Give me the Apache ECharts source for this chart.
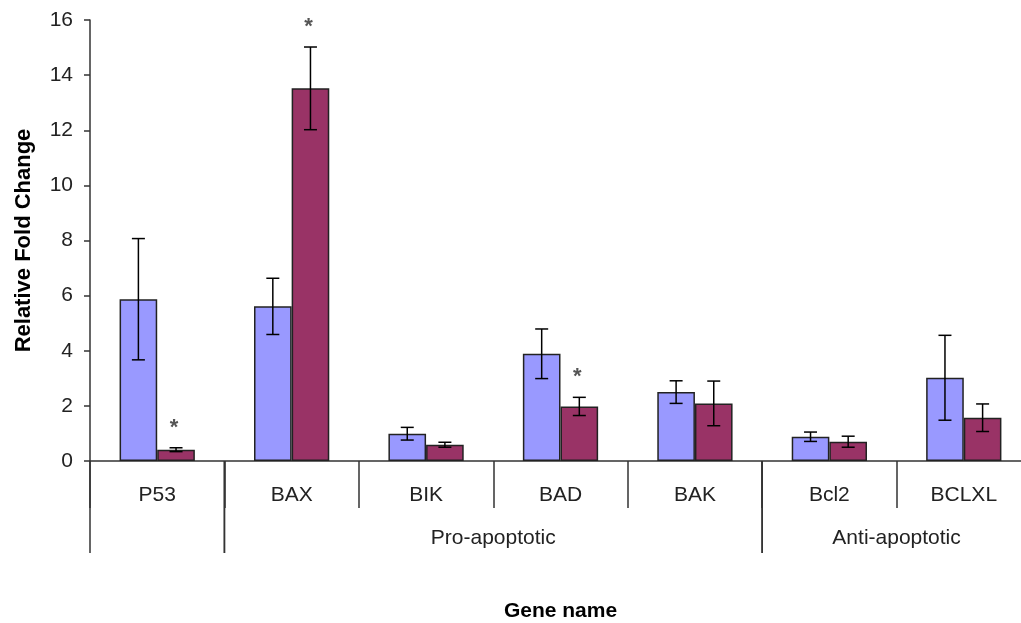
<!DOCTYPE html>
<html>
<head>
<meta charset="utf-8">
<script src="https://cdn.jsdelivr.net/npm/echarts@6/dist/echarts.min.js"></script>
<style>
  html, body { margin: 0; padding: 0; background: #fff; }
  #chart { width: 1021px; height: 623px; }
</style>
</head>
<body>
<div id="chart"></div>
<script>
// Gene expression: relative fold change with standard error
const genes = ['P53', 'BAX', 'BIK', 'BAD', 'BAK', 'Bcl2', 'BCLXL'];
const controlValues = [5.87, 5.61, 0.99, 3.89, 2.50, 0.88, 3.02];
const controlErrors = [2.2, 1.02, 0.23, 0.9, 0.41, 0.17, 1.54];
const treatedValues = [0.41, 13.52, 0.59, 1.98, 2.09, 0.70, 1.57];
const treatedErrors = [0.07, 1.5, 0.09, 0.33, 0.81, 0.2, 0.5];
const significant = [true, true, false, true, false, false, false];
const yTicks = { min: 0, max: 16, interval: 2 };

// Gene groups spanning category indices [start, end]
const groupNames = ['', 'Pro-apoptotic', 'Anti-apoptotic'];
const groupStart = [0, 1, 5];
const groupEnd = [0, 4, 6];

const COLOR_A = '#9999FF';
const COLOR_B = '#993366';
const BAR_FRACTION = 0.28;
const FONT = '"Liberation Sans", Arial, sans-serif';
const FONT_SIZE = 21;

const errorData = [];
genes.forEach((g, i) => {
  errorData.push([i, controlValues[i], controlErrors[i], -1, 0]);
  errorData.push([i, treatedValues[i], treatedErrors[i], 1, significant[i] ? 1 : 0]);
});

function renderError(params, api) {
  const idx = api.value(0);
  const val = api.value(1);
  const err = api.value(2);
  const side = api.value(3);
  const star = api.value(4);
  const band = api.size([1, 0])[0];
  const dx = side * band * BAR_FRACTION / 2;
  const top = api.coord([idx, val + err]);
  const bot = api.coord([idx, val - err]);
  const x = top[0] + dx;
  const cap = 6.5;
  const style = { stroke: '#000', lineWidth: 1.5 };
  const children = [
    { type: 'line', shape: { x1: x, y1: top[1], x2: x, y2: bot[1] }, style },
    { type: 'line', shape: { x1: x - cap, y1: top[1], x2: x + cap, y2: top[1] }, style },
    { type: 'line', shape: { x1: x - cap, y1: bot[1], x2: x + cap, y2: bot[1] }, style }
  ];
  if (star) {
    children.push({
      type: 'text',
      style: {
        text: '*', x: x - 2, y: top[1] - 20,
        fill: '#555', font: 'bold 22px ' + FONT,
        align: 'center', verticalAlign: 'middle'
      }
    });
  }
  return { type: 'group', children };
}

const groupData = groupNames.map((n, i) => [groupStart[i], groupEnd[i], i]);

function renderGroup(params, api) {
  const s = api.value(0);
  const e = api.value(1);
  const gi = api.value(2);
  const band = api.size([1, 0])[0];
  const p0 = api.coord([s, 0]);
  const p1 = api.coord([e, 0]);
  const left = p0[0] - band / 2;
  const right = p1[0] + band / 2;
  const y0 = p0[1];
  const style = { stroke: '#333', lineWidth: 1.5 };
  const children = [
    { type: 'line', shape: { x1: left, y1: y0, x2: left, y2: y0 + 92 }, style },
    { type: 'line', shape: { x1: right, y1: y0, x2: right, y2: y0 + 92 }, style }
  ];
  const name = groupNames[gi];
  if (name) {
    children.push({
      type: 'text',
      style: {
        text: name, x: (left + right) / 2, y: y0 + 77,
        fill: '#222', font: FONT_SIZE + 'px ' + FONT,
        align: 'center', verticalAlign: 'middle'
      }
    });
  }
  return { type: 'group', children };
}

const chart = echarts.init(document.getElementById('chart'), null, { renderer: 'canvas' });
chart.setOption({
  animation: false,
  backgroundColor: '#fff',
  grid: { left: 90, width: 941, top: 20, bottom: 162, containLabel: false, outerBoundsMode: 'none' },
  xAxis: {
    type: 'category',
    data: genes,
    name: 'Gene name',
    nameLocation: 'middle',
    nameGap: 140,
    nameTextStyle: { fontFamily: FONT, fontSize: FONT_SIZE, fontWeight: 'bold', color: '#000' },
    axisLine: { lineStyle: { color: '#333', width: 1.5 } },
    axisTick: { show: true, interval: 0, length: 47, inside: false, lineStyle: { color: '#333', width: 1.5 } },
    axisLabel: { interval: 0, margin: 24, fontFamily: FONT, fontSize: FONT_SIZE, color: '#222' },
    splitLine: { show: false }
  },
  yAxis: {
    type: 'value',
    min: yTicks.min,
    max: yTicks.max,
    interval: yTicks.interval,
    name: 'Relative Fold Change',
    nameLocation: 'middle',
    nameGap: 55,
    nameTextStyle: { fontFamily: FONT, fontSize: 22, fontWeight: 'bold', color: '#000' },
    axisLine: { show: true, lineStyle: { color: '#333', width: 1.5 } },
    axisTick: { show: true, length: 6, lineStyle: { color: '#333', width: 1.5 } },
    axisLabel: { margin: 17, fontFamily: FONT, fontSize: FONT_SIZE, color: '#222' },
    splitLine: { show: false }
  },
  series: [
    {
      type: 'bar', data: controlValues, barWidth: (BAR_FRACTION * 100) + '%', barGap: '0%',
      itemStyle: { color: COLOR_A, borderColor: '#222', borderWidth: 1.5 }
    },
    {
      type: 'bar', data: treatedValues, barWidth: (BAR_FRACTION * 100) + '%', barGap: '0%',
      itemStyle: { color: COLOR_B, borderColor: '#222', borderWidth: 1.5 }
    },
    {
      type: 'custom', data: errorData, renderItem: renderError, clip: false, z: 5,
      encode: { x: 0, y: [1, 2] }
    },
    {
      type: 'custom', data: groupData, renderItem: renderGroup, clip: false, z: 5,
      encode: { x: [0, 1], y: -1 }
    }
  ]
});
</script>
</body>
</html>
